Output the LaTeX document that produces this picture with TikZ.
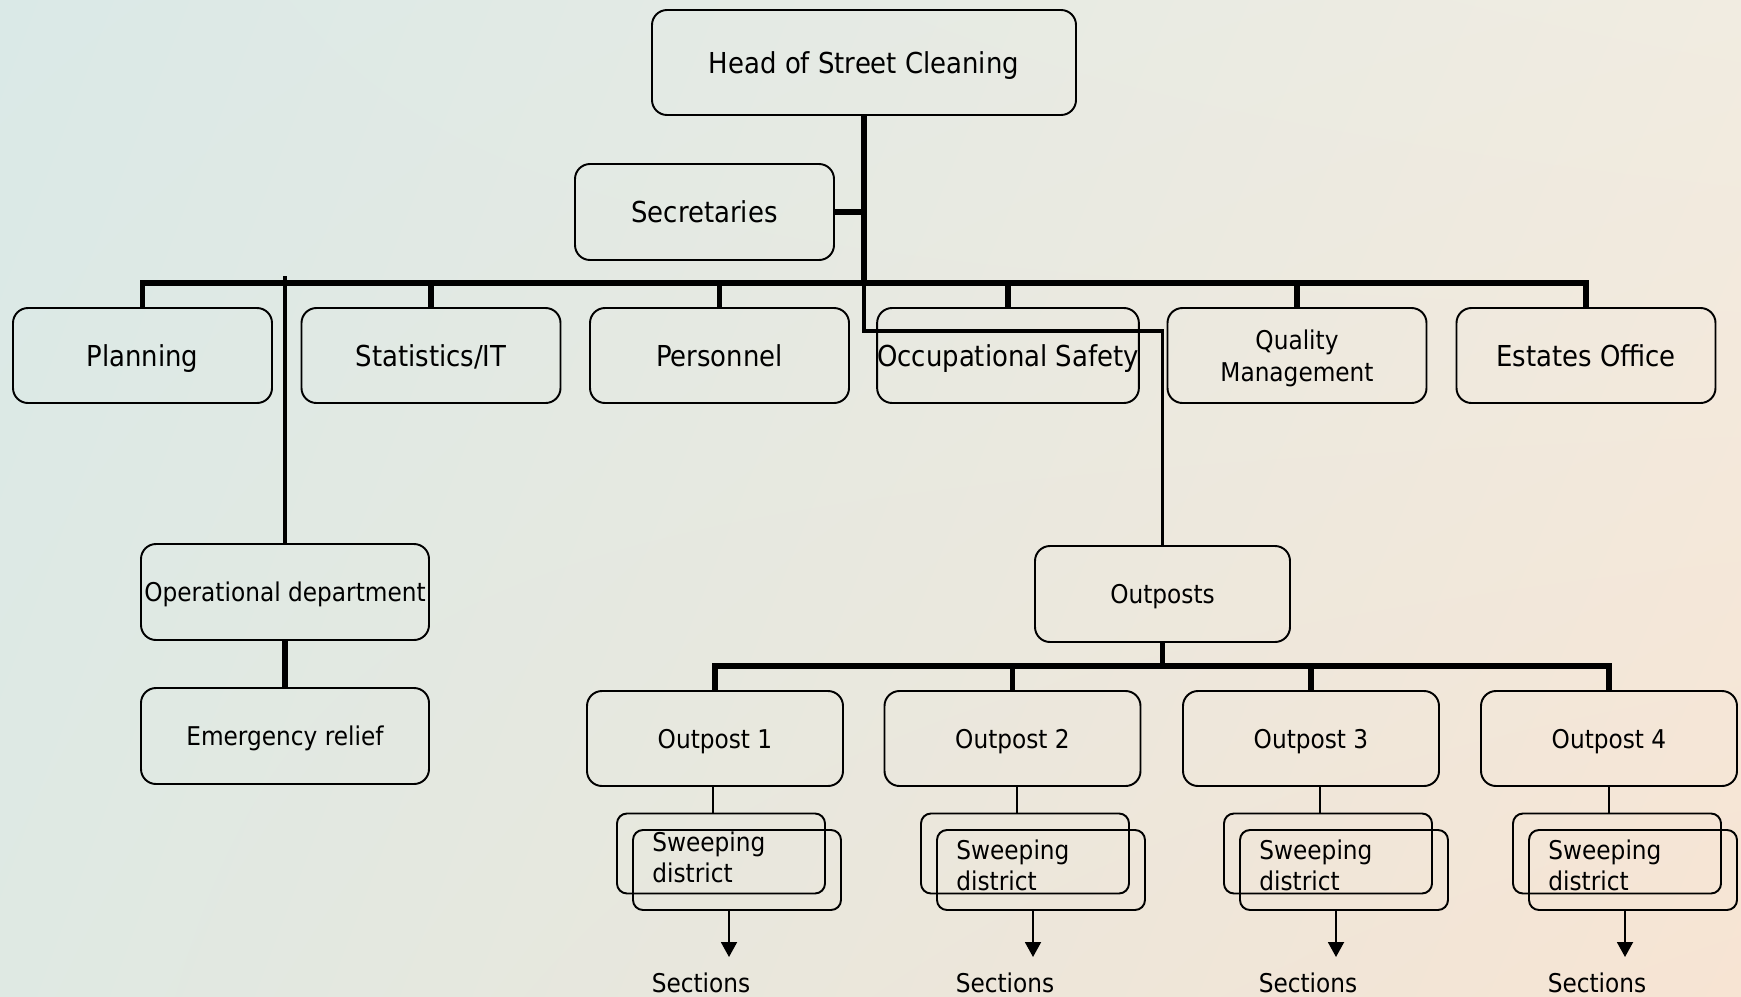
\documentclass[tikz,border=0pt]{standalone}
\usepackage{fontspec}
\setmainfont{DejaVu Sans}[FakeStretch=0.9]
\usepackage{tikz}
\usetikzlibrary{
	arrows.meta,
	shadings,
	calc
}
\definecolor{bgul}{RGB}{218,233,231}
\definecolor{bgur}{RGB}{241,236,225}
\definecolor{bgll}{RGB}{223,233,227}
\definecolor{bglr}{RGB}{247,228,211}
\tikzset{
  % line
	cstlink/.style      ={line width=3.4pt},   % main link
	cstmid/.style       ={line width=2pt},
	cstthin/.style      ={line width=1.1pt},
	cstra/.style        ={-{Triangle[width=3.2mm,length=3mm]}, line width=1.1pt},
  % node
	cstbox/.style       ={draw=black,line width=1.1pt,rounded corners=3mm,inner sep=0pt,align=center,font=\fontsize{16.4}{19}\selectfont,text height=12.5pt,text depth=0pt},
	cstboxs/.style      ={cstbox,font=\fontsize{14.7}{18.2}\selectfont,text height=11.2pt},
	cstrow/.style       ={cstbox,minimum width=51.8mm,minimum height=19mm},
	cstpost/.style      ={cstboxs,minimum width=51.2mm,minimum height=19mm},
	cstsweep/.style     ={draw=black,line width=1.1pt,rounded corners=2mm,minimum width=41.6mm,minimum height=16mm,inner sep=0pt},
	cstsmall/.style     ={inner sep=0pt,font=\fontsize{14.7}{17.6}\selectfont}
}

\begin{document}
\begin{tikzpicture}[x=0.2mm,y=-0.2mm]
	\useasboundingbox (0,0) rectangle (1741,997);
	\shade[upper left=bgul,upper right=bgur,lower left=bgll,lower right=bglr] (0,0) rectangle (1741,997);
	% top
	\node[cstbox,minimum width=84.8mm,minimum height=21mm] (head) at (864,62.5) {Head of Street Cleaning};
	\node[cstbox,minimum width=51.8mm,minimum height=19.2mm] (secr) at (704.5,212) {Secretaries};
	% staff row
	\node[cstrow] (plan) at (142.5,355.5) {Planning};
	\node[cstrow] (stat) at (431,355.5) {Statistics/IT};
	\node[cstrow] (pers) at (719.5,355.5) {Personnel};
	\node[cstrow] (safety) at (1008,355.5) {Occupational Safety};
	\node[cstrow,font=\fontsize{14.7}{18.2}\selectfont,text height=,text depth=-1pt] (quality) at (1297,355.5) {Quality\\Management};
	\node[cstrow] (estate) at (1586,355.5) {Estates Office};
	% lower part
	\node[cstboxs,minimum width=57.6mm,minimum height=19.2mm] (opdep) at (285,592) {Operational department};
	\node[cstboxs,minimum width=57.6mm,minimum height=19.2mm] (emerg) at (285,736) {Emergency relief};
	\node[cstboxs,minimum width=51mm,minimum height=19.2mm] (posts) at (1162.5,594) {Outposts};
	\foreach \c/\l/\t/\i in {715/713/857.5/1,1012.5/1017/865.5/2,1311/1320/865.5/3,1609/1609/865.5/4}{
		\node[cstpost] (post\i) at (\c,738.5) {Outpost \i};
		\node[cstsweep] (sdb\i) at (\l+8,853.5) {};
		\node[cstsweep] (sdf\i) at (\l+24,870) {};
		\node[cstsmall,align=left,anchor=west] (sdt\i) at (\l-61,\t) {Sweeping\\district};
		\node[cstsmall,anchor=base] (sec\i) at (\l-12,992) {Sections};
		\coordinate (lin\i) at (\l,813);
		\coordinate (tip\i) at (\l+16,957);
		\draw[cstthin] (post\i.south -| lin\i) -- (lin\i);
		\draw[cstra] (tip\i |- sdf\i.south) -- (tip\i);
	}
	% links
	\coordinate (bus) at (864,283);
	\coordinate (jog) at (864,331);
	\coordinate (optop) at (285,276);
	\coordinate (obus) at (1162.5,666);
	\draw[cstlink] (head.south) -- (bus);
	\draw[cstlink] (secr.east) -- (secr.east -| head.south);
	\draw[cstlink] (plan.north) |- (bus) -| (estate.north);
	\foreach \n in {stat,pers,safety,quality}
		\draw[cstlink] (\n.north) -- (\n.north |- bus);
	\draw[cstmid] (bus) -- (jog) -| (posts.north);
	\draw[cstmid] (optop) -- (opdep.north);
	\draw[cstlink] (opdep.south) -- (emerg.north);
	\draw[cstlink] (posts.south) -- (obus);
	\draw[cstlink] (post1.north) |- (obus) -| (post4.north);
	\foreach \n in {post2,post3}
		\draw[cstlink] (\n.north) -- (\n.north |- obus);
\end{tikzpicture}
\end{document}
